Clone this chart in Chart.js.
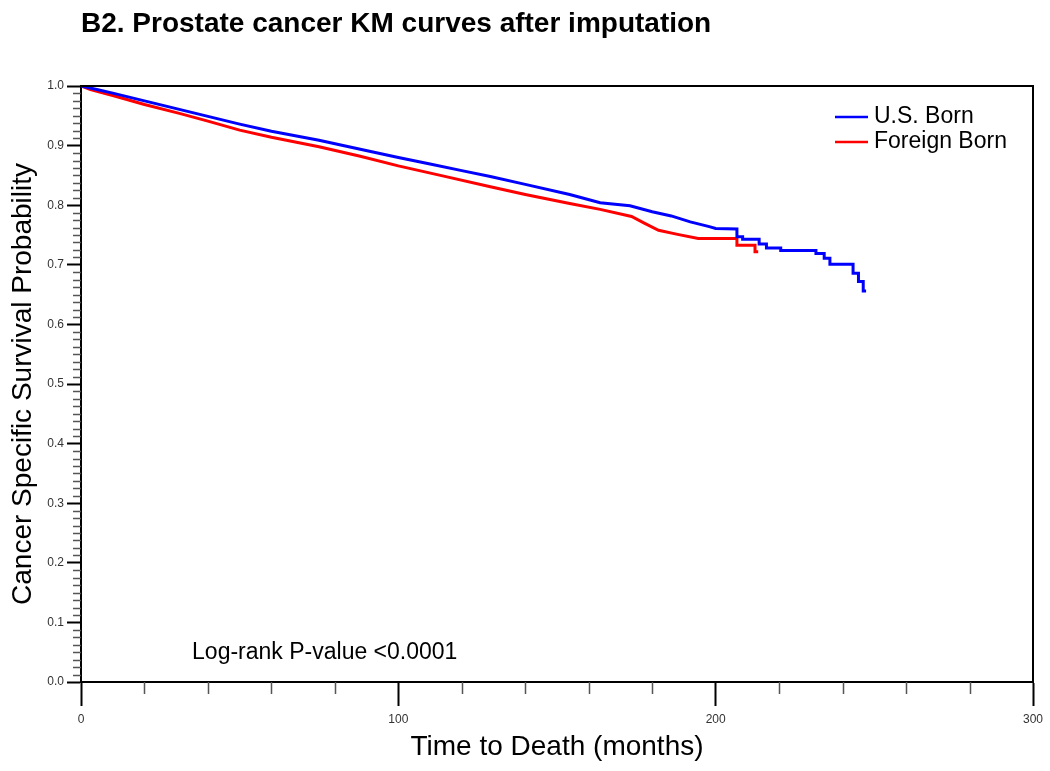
<!DOCTYPE html>
<html>
<head>
<meta charset="utf-8">
<title>Prostate cancer KM curves</title>
<script src="https://cdn.jsdelivr.net/npm/chart.js@4.4.0/dist/chart.umd.min.js"></script>
<style>
    html, body { margin: 0; padding: 0; background: #fff; }
</style>
</head>
<body>
<canvas id="kmChart" width="1050" height="771"></canvas>
<script>
// KM curve data (months, survival probability)
const usMonths = [0, 5, 10, 20, 30, 40, 50, 60, 75, 88, 100, 110, 120, 129, 140, 154, 163.6, 173, 180, 186, 192, 198, 200,
    206.7, 206.7, 208.5, 208.5, 213.7, 213.7, 216, 216, 220.5, 220.5, 231.6, 231.6, 234.2, 234.2, 236, 236,
    243.3, 243.3, 245, 245, 246.5, 246.5, 247.4];
const usSurvival = [1.000, 0.994, 0.988, 0.975, 0.962, 0.949, 0.936, 0.924, 0.909, 0.894, 0.880, 0.869, 0.858, 0.848, 0.835, 0.818, 0.804, 0.799, 0.789, 0.782, 0.772, 0.764, 0.761,
    0.760, 0.747, 0.747, 0.743, 0.743, 0.735, 0.735, 0.728, 0.728, 0.724, 0.724, 0.719, 0.719, 0.711, 0.711, 0.701,
    0.701, 0.686, 0.686, 0.672, 0.672, 0.656, 0.656];

const fbMonths = [0, 3, 10, 20, 31, 40, 50, 60, 75, 88, 100, 115, 129, 140, 154, 163.6, 173.5, 177.5, 182, 188, 194.5,
    206.7, 206.7, 212.4, 212.4, 213.4];
const fbSurvival = [1.000, 0.994, 0.984, 0.969, 0.954, 0.941, 0.926, 0.914, 0.898, 0.882, 0.866, 0.848, 0.831, 0.818, 0.803, 0.793, 0.781, 0.770, 0.758, 0.751, 0.744,
    0.744, 0.733, 0.733, 0.722, 0.722];

const seriesLabels = ['U.S. Born', 'Foreign Born'];
const seriesColors = ['#0000ff', '#ff0000'];

const xMajorTicks = [0, 100, 200, 300];
const yMajorTicks = [0.0, 0.1, 0.2, 0.3, 0.4, 0.5, 0.6, 0.7, 0.8, 0.9, 1.0];
const xMinorStep = 20;
const yMinorStep = 0.0125;

const FONT = '"Liberation Sans", Arial, sans-serif';

function toPoints(xs, ys) {
    return xs.map((x, i) => ({ x: x, y: ys[i] }));
}

// box edges, minor ticks, legend and the log-rank note
const kmExtras = {
    id: 'kmExtras',
    afterDraw(chart) {
        const { ctx, chartArea: a, scales: { x, y } } = chart;
        ctx.save();

        ctx.strokeStyle = '#000';
        ctx.lineWidth = 2;
        ctx.beginPath();
        ctx.moveTo(a.left, a.top);
        ctx.lineTo(a.right, a.top);
        ctx.lineTo(a.right, a.bottom);
        ctx.stroke();

        // minor ticks
        ctx.strokeStyle = '#555';
        ctx.lineWidth = 1.5;
        ctx.beginPath();
        for (let v = xMinorStep; v < x.max; v += xMinorStep) {
            if (v % 100 === 0) continue;
            const px = Math.round(x.getPixelForValue(v)) + 0.5;
            ctx.moveTo(px, a.bottom);
            ctx.lineTo(px, a.bottom + 12);
        }
        const nY = Math.round((y.max - y.min) / yMinorStep);
        for (let i = 1; i < nY; i++) {
            if (i % 8 === 0) continue;
            const py = Math.round(y.getPixelForValue(i * yMinorStep)) + 0.5;
            ctx.moveTo(a.left, py);
            ctx.lineTo(a.left - 8, py);
        }
        ctx.stroke();

        // legend
        ctx.font = '23px ' + FONT;
        ctx.textBaseline = 'middle';
        ctx.textAlign = 'left';
        ctx.fillStyle = '#000';
        seriesLabels.forEach((lbl, i) => {
            const ly = a.top + 31 + i * 25;
            ctx.strokeStyle = seriesColors[i];
            ctx.lineWidth = 2.5;
            ctx.beginPath();
            ctx.moveTo(a.right - 198, ly);
            ctx.lineTo(a.right - 165, ly);
            ctx.stroke();
            ctx.fillText(lbl, a.right - 159, ly);
        });

        // log-rank note
        ctx.fillText('Log-rank P-value <0.0001', x.getPixelForValue(35), y.getPixelForValue(0.05));
        ctx.restore();
    }
};

const kmCtx = document.getElementById('kmChart');
new Chart(kmCtx, {
    type: 'line',
    data: {
        datasets: [
            {
                label: seriesLabels[0],
                data: toPoints(usMonths, usSurvival),
                borderColor: seriesColors[0],
                backgroundColor: seriesColors[0],
                borderWidth: 3,
                pointRadius: 0,
                tension: 0,
                fill: false
            },
            {
                label: seriesLabels[1],
                data: toPoints(fbMonths, fbSurvival),
                borderColor: seriesColors[1],
                backgroundColor: seriesColors[1],
                borderWidth: 3,
                pointRadius: 0,
                tension: 0,
                fill: false
            }
        ]
    },
    options: {
        responsive: false,
        animation: false,
        layout: { padding: { left: 0, right: 17, top: 0, bottom: 0 } },
        plugins: {
            legend: { display: false },
            tooltip: { enabled: false },
            title: {
                display: true,
                text: 'B2. Prostate cancer KM curves after imputation',
                align: 'start',
                fullSize: false,
                color: '#000',
                font: { family: FONT, size: 28, weight: 'bold' },
                padding: { top: 7, bottom: 45.4 }
            }
        },
        scales: {
            x: {
                type: 'linear',
                min: 0,
                max: 300,
                afterBuildTicks: s => { s.ticks = xMajorTicks.map(v => ({ value: v })); },
                afterFit: s => { s.height = 89; },
                border: { display: true, color: '#000', width: 2 },
                grid: { drawOnChartArea: false, drawTicks: true, tickLength: 24, tickWidth: 2, tickColor: '#000' },
                ticks: { color: '#333', padding: 6, maxRotation: 0, font: { family: FONT, size: 12 } },
                title: {
                    display: true,
                    text: 'Time to Death (months)',
                    color: '#000',
                    font: { family: FONT, size: 28 },
                    padding: { top: 0, bottom: 7 }
                }
            },
            y: {
                type: 'linear',
                min: 0,
                max: 1,
                afterBuildTicks: s => { s.ticks = yMajorTicks.map(v => ({ value: v })); },
                afterFit: s => { s.width = 81; },
                border: { display: true, color: '#000', width: 2 },
                grid: { drawOnChartArea: false, drawTicks: true, tickLength: 14, tickWidth: 2, tickColor: '#000' },
                ticks: {
                    color: '#333',
                    padding: 3,
                    font: { family: FONT, size: 12 },
                    callback: v => v.toFixed(1)
                },
                title: {
                    display: true,
                    text: 'Cancer Specific Survival Probability',
                    color: '#000',
                    font: { family: FONT, size: 28 },
                    padding: { top: 6, bottom: 0 }
                }
            }
        }
    },
    plugins: [kmExtras]
});
</script>
</body>
</html>
